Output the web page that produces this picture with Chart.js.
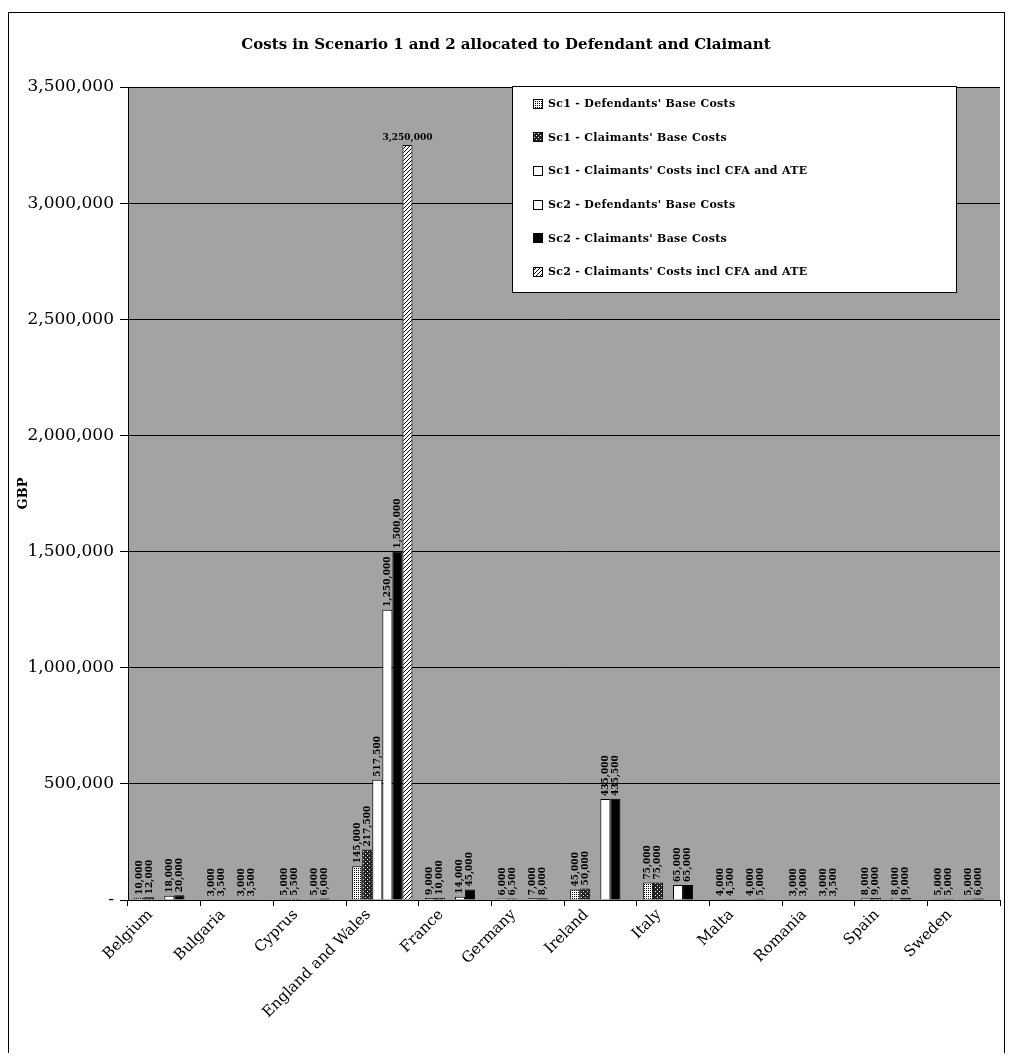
<!DOCTYPE html>
<html>
<head>
<meta charset="utf-8">
<script src="https://cdn.jsdelivr.net/npm/chart.js@4.4.0/dist/chart.umd.min.js"></script>
<style>
  body { margin: 0; background: #fff; }
  #wrap { position: relative; width: 1012px; height: 1058px; overflow: hidden; }
  #frame { position: absolute; left: 8px; top: 12px; width: 995px; height: 1040px; border: 1px solid #000; border-bottom: none; }
  #title { position: absolute; left: 0; width: 1012px; top: 35px; text-align: center; font: bold 15px "DejaVu Serif"; color: #000; }
  #legend { position: absolute; left: 512px; top: 86px; width: 443px; height: 205px; background: #fff; border: 1px solid #000; }
  .row { height: 33.6px; display: flex; align-items: center; padding-left: 20px; font: bold 11px "DejaVu Serif"; color: #000; letter-spacing: 0.3px; }
  .row canvas { margin-right: 5px; }
  canvas#chart { position: absolute; left: 0; top: 0; }
</style>
</head>
<body>
<div id="wrap">
  <canvas id="chart" width="1012" height="1058"></canvas>
  <div id="frame"></div>
  <div id="title">Costs in Scenario 1 and 2 allocated to Defendant and Claimant</div>
  <div id="legend"></div>
</div>
<script>
const countries = ['Belgium', 'Bulgaria', 'Cyprus', 'England and Wales', 'France', 'Germany',
  'Ireland', 'Italy', 'Malta', 'Romania', 'Spain', 'Sweden'];

const seriesLabels = [
  "Sc1 - Defendants' Base Costs",
  "Sc1 - Claimants' Base Costs",
  "Sc1 - Claimants' Costs incl CFA and ATE",
  "Sc2 - Defendants' Base Costs",
  "Sc2 - Claimants' Base Costs",
  "Sc2 - Claimants' Costs incl CFA and ATE"
];

// values (GBP)
const sc1Defendant = [10000, 3000, 5000, 145000, 9000, 6000, 45000, 75000, 4000, 3000, 8000, 5000];
const sc1Claimant = [12000, 3500, 5500, 217500, 10000, 6500, 50000, 75000, 4500, 3000, 9000, 5000];
const sc1ClaimantCfa = [null, null, null, 517500, null, null, null, null, null, null, null, null];
const sc2Defendant = [18000, 3000, 5000, 1250000, 14000, 7000, 435000, 65000, 4000, 3000, 8000, 5000];
const sc2Claimant = [20000, 3500, 6000, 1500000, 45000, 8000, 435500, 65000, 5000, 3500, 9000, 6000];
const sc2ClaimantCfa = [null, null, null, 3250000, null, null, null, null, null, null, null, null];

const yTicks = [0, 500000, 1000000, 1500000, 2000000, 2500000, 3000000, 3500000];

function makePattern(kind) {
  const c = document.createElement('canvas');
  c.width = 4; c.height = 4;
  const g = c.getContext('2d');
  if (kind === 'dots') {
    g.fillStyle = '#fff'; g.fillRect(0, 0, 4, 4);
    g.fillStyle = '#000';
    g.fillRect(0, 0, 1, 1); g.fillRect(2, 2, 1, 1); g.fillRect(2, 0, 1, 1); g.fillRect(0, 2, 1, 1);
  } else if (kind === 'dark') {
    g.fillStyle = '#222'; g.fillRect(0, 0, 4, 4);
    g.fillStyle = '#fff';
    g.fillRect(1, 1, 1, 1); g.fillRect(3, 3, 1, 1);
  } else if (kind === 'hatch') {
    g.fillStyle = '#fff'; g.fillRect(0, 0, 4, 4);
    g.fillStyle = '#000';
    g.fillRect(0, 3, 1, 1); g.fillRect(1, 2, 1, 1); g.fillRect(2, 1, 1, 1); g.fillRect(3, 0, 1, 1);
  } else if (kind === 'black') {
    g.fillStyle = '#000'; g.fillRect(0, 0, 4, 4);
  } else {
    g.fillStyle = '#fff'; g.fillRect(0, 0, 4, 4);
  }
  return document.createElement('canvas').getContext('2d').createPattern(c, 'repeat');
}

const fills = ['dots', 'dark', 'white', 'white', 'black', 'hatch'].map(makePattern);
const seriesData = [sc1Defendant, sc1Claimant, sc1ClaimantCfa, sc2Defendant, sc2Claimant, sc2ClaimantCfa];

// legend
const legend = document.getElementById('legend');
seriesLabels.forEach((lab, i) => {
  const row = document.createElement('div');
  row.className = 'row';
  const sw = document.createElement('canvas');
  sw.width = 10; sw.height = 10;
  const g = sw.getContext('2d');
  g.fillStyle = fills[i]; g.fillRect(0, 0, 10, 10);
  g.strokeStyle = '#000'; g.lineWidth = 1; g.strokeRect(0.5, 0.5, 9, 9);
  row.appendChild(sw);
  row.appendChild(document.createTextNode(lab));
  legend.appendChild(row);
});

const plotBg = {
  id: 'plotBg',
  beforeDraw(chart) {
    const { ctx, chartArea: a } = chart;
    ctx.save();
    ctx.fillStyle = '#a3a3a3';
    ctx.fillRect(a.left, a.top, a.right - a.left, a.bottom - a.top);
    ctx.restore();
  }
};

const valueLabels = {
  id: 'valueLabels',
  afterDatasetsDraw(chart) {
    const ctx = chart.ctx;
    ctx.font = 'bold 9px "DejaVu Serif"';
    ctx.fillStyle = '#000';
    chart.data.datasets.forEach((ds, i) => {
      chart.getDatasetMeta(i).data.forEach((bar, j) => {
        const v = ds.data[j];
        if (v == null) return;
        const txt = v.toLocaleString('en-GB');
        const w = ctx.measureText(txt).width;
        ctx.save();
        if (bar.y - w - 4 < chart.chartArea.top + 60) {
          ctx.textAlign = 'center';
          ctx.textBaseline = 'bottom';
          ctx.fillText(txt, bar.x, bar.y - 3);
        } else {
          ctx.translate(bar.x, bar.y - 3);
          ctx.rotate(-Math.PI / 2);
          ctx.textAlign = 'left';
          ctx.textBaseline = 'middle';
          ctx.fillText(txt, 0, 0);
        }
        ctx.restore();
      });
    });
  }
};

new Chart(document.getElementById('chart'), {
  type: 'bar',
  data: {
    labels: countries,
    datasets: seriesData.map((d, i) => ({
      label: seriesLabels[i],
      data: d,
      backgroundColor: fills[i],
      borderColor: '#000',
      borderWidth: 1,
      categoryPercentage: 0.83,
      barPercentage: 1
    }))
  },
  options: {
    responsive: false,
    animation: false,
    layout: { padding: { top: 87, right: 12, left: 0, bottom: 0 } },
    plugins: {
      legend: { display: false },
      tooltip: { enabled: false }
    },
    scales: {
      x: {
        grid: { display: true, drawOnChartArea: false, color: '#000', tickLength: 6 },
        border: { color: '#000' },
        ticks: { color: '#000', font: { family: 'DejaVu Serif', size: 15 }, maxRotation: 45, minRotation: 45, padding: 0, labelOffset: -14 },
        afterFit(scale) { scale.height = 158; }
      },
      y: {
        min: 0,
        max: 3500000,
        afterBuildTicks(scale) { scale.ticks = yTicks.map(v => ({ value: v })); },
        grid: { color: '#000', tickLength: 8 },
        border: { color: '#000' },
        ticks: {
          color: '#000',
          padding: 6,
          font: { family: 'DejaVu Serif', size: 17 },
          callback: v => v === 0 ? '-' : v.toLocaleString('en-GB')
        },
        title: { display: true, text: 'GBP', color: '#000', font: { family: 'DejaVu Serif', size: 13, weight: 'bold' }, padding: { top: 16 } },
        afterFit(scale) { scale.width = 128; }
      }
    }
  },
  plugins: [plotBg, valueLabels]
});
</script>
</body>
</html>
